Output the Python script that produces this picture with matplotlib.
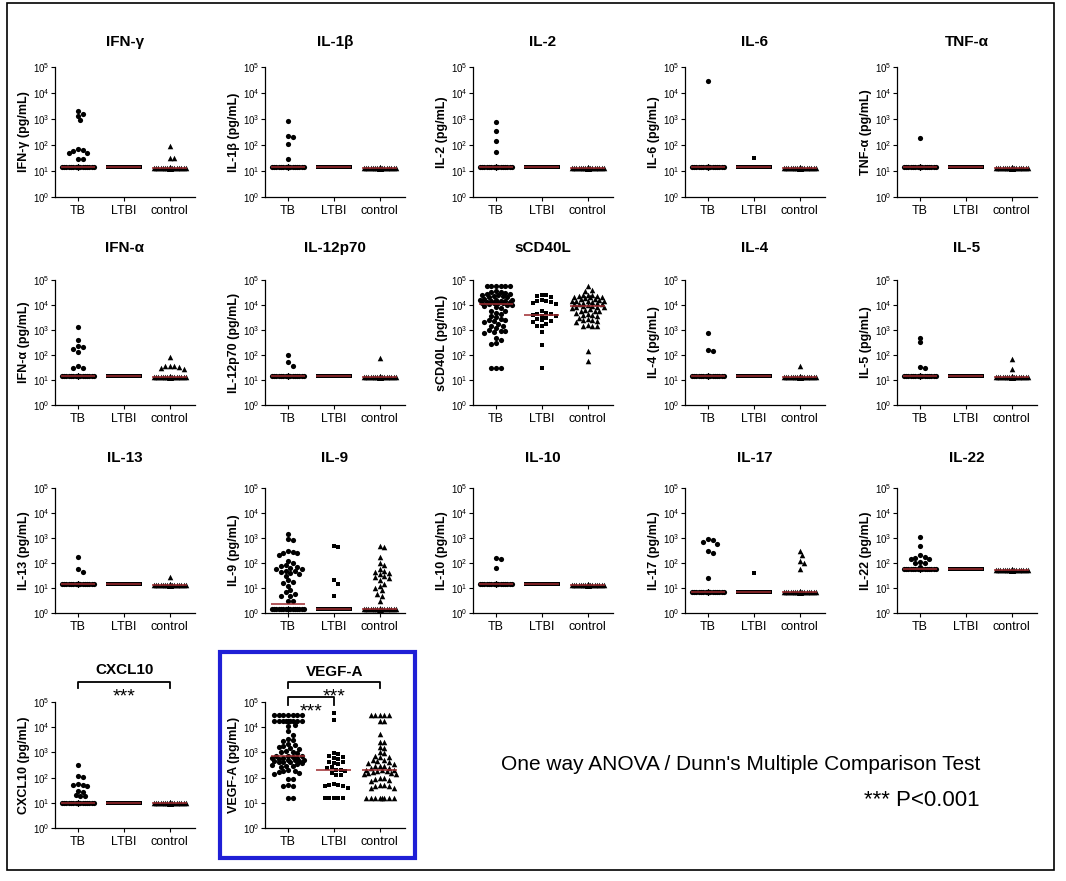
import numpy as np
import matplotlib
matplotlib.use('Agg')
import matplotlib.pyplot as plt
from matplotlib.patches import Rectangle

plt.rcParams['font.family'] = ['Liberation Sans', 'DejaVu Sans']

groups = ['TB', 'LTBI', 'control']

# pg/mL values; repeated values = points sitting on the detection limit
ifn_g = {'TB': [2000, 1600, 1300, 900, 70, 65, 60, 50, 50, 30, 30] + [14] * 55,
         'LTBI': [14] * 30,
         'control': [90, 32, 32] + [13] * 53}
il_1b = {'TB': [850, 230, 200, 110, 28] + [14] * 61,
         'LTBI': [14] * 30,
         'control': [13] * 56}
il_2 = {'TB': [800, 340, 140, 56] + [14] * 62,
        'LTBI': [14] * 30,
        'control': [13] * 56}
il_6 = {'TB': [28000] + [14] * 65,
        'LTBI': [31] + [14] * 29,
        'control': [13] * 56}
tnf_a = {'TB': [180] + [14] * 65,
         'LTBI': [14] * 30,
         'control': [13] * 56}
ifn_a = {'TB': [1300, 400, 230, 200, 180, 130, 38, 30, 30] + [14] * 57,
         'LTBI': [14] * 30,
         'control': [80, 38, 36, 34, 30, 28, 38] + [13] * 49}
il_12 = {'TB': [100, 52, 38] + [14] * 63,
         'LTBI': [14] * 30,
         'control': [76] + [13] * 55}
scd40l = {'TB': [60000] * 6
                + [35000, 33000, 30000, 32000, 28000, 27000, 25000, 24000, 22000, 21000, 20000, 23000]
                + [16000, 15000, 15500, 14000, 14500, 13500, 13000, 12500, 12000, 12000, 11500, 11000, 16500, 17000]
                + [10000, 10000, 9500, 8000, 7500, 6000, 5500, 5000, 4500]
                + [3500, 3200, 2800, 2500, 2400, 2200, 2000, 1800]
                + [1500, 1400, 1200, 1000, 950, 900, 800, 750, 500, 400, 300, 280, 30, 30, 30],
          'LTBI': [25000, 24000, 22000, 20000, 16000, 15000, 14000, 13000, 12000, 11000,
                   6000, 4800, 4500, 4300, 4000, 3800, 3500, 3000, 2800, 2500, 2200, 2000,
                   1800, 1500, 1500, 800, 250, 30],
          'control': [55000, 40000, 38000, 26000, 25000, 24000, 23000, 22000, 21000, 20000,
                      19000, 18000, 20000, 17000, 16000, 15000, 15000, 14000, 14000, 13000,
                      12500, 12000, 11000, 11000, 10500, 10000, 9500, 9000, 8500, 8000,
                      8000, 7500, 7000, 6500, 6000, 6000, 5500, 5000, 4500, 4000,
                      4000, 3500, 3000, 2800, 2600, 2500, 2200, 2000, 1600, 1500,
                      1400, 1500, 150, 55]}
il_4 = {'TB': [750, 160, 150] + [14] * 63,
        'LTBI': [14] * 30,
        'control': [38] + [13] * 55}
il_5 = {'TB': [500, 320, 34, 30] + [14] * 62,
        'LTBI': [14] * 30,
        'control': [72, 28] + [13] * 54}
il_13 = {'TB': [180, 60, 44] + [14] * 63,
         'LTBI': [14] * 30,
         'control': [28] + [13] * 55}
il_9 = {'TB': [1400, 900, 800, 300, 280, 250, 250, 200, 120, 100, 80, 75, 70, 65, 60, 55,
               50, 48, 45, 40, 35, 30, 20, 18, 16, 12, 8, 7, 6, 5, 5, 3, 3] + [1.4] * 33,
        'LTBI': [500, 450, 20, 15, 5] + [1.4] * 25,
        'control': [500, 450, 180, 100, 80, 60, 50, 45, 40, 35, 30, 28, 25, 20, 15, 12,
                    10, 8, 6, 5, 3] + [1.4] * 35}
il_10 = {'TB': [160, 140, 65] + [14] * 63,
         'LTBI': [14] * 30,
         'control': [13] * 56}
il_17 = {'TB': [900, 800, 700, 600, 300, 250, 25] + [7] * 59,
         'LTBI': [40] + [7] * 29,
         'control': [300, 200, 120, 100, 60] + [7] * 51}
il_22 = {'TB': [1100, 500, 200, 180, 160, 150, 140, 110, 100, 100, 70] + [55] * 55,
         'LTBI': [55] * 30,
         'control': [52] * 56}
cxcl10 = {'TB': [330, 120, 110, 55, 50, 50, 48, 30, 28, 20, 18, 18] + [9.5] * 54,
          'LTBI': [9.5] * 30,
          'control': [9.5] * 56}
vegf_a = {'TB': [30000] * 7 + [17000] * 9 + [12000, 11000, 7000, 5000, 3500, 3000, 2800,
                 2200, 2000, 1800, 1600, 1500, 1400, 1100, 1000, 1000, 950,
                 750, 700, 700, 650, 600, 600, 580, 550, 520, 500, 480, 470, 450, 420,
                 400, 400, 380, 350, 320, 300, 280, 260, 200, 190, 180, 170, 150, 140,
                 90, 85, 50, 48, 45, 15, 15],
          'LTBI': [35000, 19000, 950, 900, 700, 650, 600, 550, 420, 400, 380, 350, 260, 250,
                   200, 200, 180, 150, 130, 125, 55, 50, 50, 48, 45, 40, 15, 15, 15, 15, 15],
          'control': [30000] * 5 + [17000, 17000, 5600, 2600, 2500, 1600, 1500, 1000, 950,
                      700, 680, 650, 500, 480, 450, 400, 380, 350, 300, 290, 280, 250, 240,
                      200, 200, 200, 180, 175, 170, 150, 150, 140, 140, 100, 95, 90, 80, 75,
                      50, 50, 48, 45, 40, 38] + [15] * 8}

panels = [('IFN-γ', 'IFN-γ (pg/mL)', ifn_g), ('IL-1β', 'IL-1β (pg/mL)', il_1b),
          ('IL-2', 'IL-2 (pg/mL)', il_2), ('IL-6', 'IL-6 (pg/mL)', il_6),
          ('TNF-α', 'TNF-α (pg/mL)', tnf_a), ('IFN-α', 'IFN-α (pg/mL)', ifn_a),
          ('IL-12p70', 'IL-12p70 (pg/mL)', il_12), ('sCD40L', 'sCD40L (pg/mL)', scd40l),
          ('IL-4', 'IL-4 (pg/mL)', il_4), ('IL-5', 'IL-5 (pg/mL)', il_5),
          ('IL-13', 'IL-13 (pg/mL)', il_13), ('IL-9', 'IL-9 (pg/mL)', il_9),
          ('IL-10', 'IL-10 (pg/mL)', il_10), ('IL-17', 'IL-17 (pg/mL)', il_17),
          ('IL-22', 'IL-22 (pg/mL)', il_22), ('CXCL10', 'CXCL10 (pg/mL)', cxcl10),
          ('VEGF-A', 'VEGF-A (pg/mL)', vegf_a)]

markers = {'TB': ('o', 14), 'LTBI': ('s', 12), 'control': ('^', 16)}

W, H = 1066, 881
col_x = [55, 265, 473, 685, 897]
rows = [(67, 197, 42), (280, 405, 248), (488, 613, 458), (702, 828, 670)]
AX_W = 140


def swarm(vals, step=0.05, d=4.6, maxw=0.36, ux=46.0, uy=25.5):
    # simple beeswarm: offsets in category units so that markers do not overlap;
    # once a row is full the rest fill the gaps (gives the solid band at the detection limit)
    vals = np.asarray(vals, float)
    y = np.log10(vals) * uy
    xs = np.zeros(len(vals))
    cand = [0.0]
    k = 1
    while k * step <= maxw + 1e-9:
        cand += [k * step, -k * step]
        k += 1
    px, py = [], []
    for i in np.argsort(-vals):
        best, best_d = 0.0, -1
        for c in cand:
            if px:
                dist = np.min(np.hypot((np.array(px) - c) * ux, np.array(py) - y[i]))
            else:
                dist = 1e9
            if dist >= d:
                best = c
                break
            if dist > best_d:
                best, best_d = c, dist
        xs[i] = best
        px.append(best)
        py.append(y[i])
    return xs


fig = plt.figure(figsize=(W / 100, H / 100), dpi=100)

for n, (title, ylab, data) in enumerate(panels):
    if n < 15:
        r, c = divmod(n, 5)
    else:
        r, c = 3, n - 15
    top, bottom, ty = rows[r]
    x0 = col_x[c]
    ax = fig.add_axes([x0 / W, 1 - bottom / H, AX_W / W, (bottom - top) / H])
    for gi, g in enumerate(groups):
        vals = np.asarray(data[g], float)
        m, s = markers[g]
        ax.scatter(gi + swarm(vals), vals, marker=m, s=s, color='black', linewidths=0, zorder=2)
        ax.hlines(np.median(vals), gi - 0.38, gi + 0.38, color='#9e2a2e', lw=1.1, zorder=3)
    ax.set_yscale('log')
    ax.set_ylim(1, 1e5)
    ax.set_xlim(-0.5, 2.55)
    ax.set_yticks([1, 10, 100, 1e3, 1e4, 1e5])
    ax.minorticks_off()
    ax.set_xticks(range(3))
    ax.set_xticklabels(groups, fontsize=9)
    ax.tick_params(axis='y', labelsize=7, length=3, width=0.8, pad=1)
    ax.tick_params(axis='x', length=3, width=0.8, pad=3)
    for sp in ['top', 'right']:
        ax.spines[sp].set_visible(False)
    for sp in ['left', 'bottom']:
        ax.spines[sp].set_linewidth(0.9)
    ax.set_ylabel(ylab, fontweight='bold', fontsize=9, labelpad=2)
    if title == 'VEGF-A':
        ty = 672
    fig.text((x0 + AX_W / 2) / W, 1 - ty / H, title, ha='center', va='center',
             fontweight='bold', fontsize=11)

    hgt = bottom - top
    tr = ax.get_xaxis_transform()
    if title in ('CXCL10', 'VEGF-A'):
        yb, yt = 1 + 20 / hgt, 1 + 14 / hgt
        ax.plot([0, 0, 2, 2], [yt, yb, yb, yt], color='black', lw=1.3,
                transform=tr, clip_on=False)
        ax.text(1, 1 + 14 / hgt, '***', ha='center', va='top', fontsize=14, transform=tr)
    if title == 'VEGF-A':
        yb, yt = 1 + 5 / hgt, 1 - 3 / hgt
        ax.plot([0, 0, 1, 1], [yt, yb, yb, yt], color='black', lw=1.3,
                transform=tr, clip_on=False)
        ax.text(0.5, 1 - 1 / hgt, '***', ha='center', va='top', fontsize=14, transform=tr)

fig.text(980 / W, 1 - 764 / H, "One way ANOVA / Dunn's Multiple Comparison Test",
         ha='right', va='center', fontsize=15)
fig.text(980 / W, 1 - 801 / H, '*** P<0.001', ha='right', va='center', fontsize=16)

fig.add_artist(Rectangle((7 / W, 1 - 870 / H), 1047 / W, 867 / H, transform=fig.transFigure,
                         fill=False, lw=1.2, ec='black'))
fig.add_artist(Rectangle((220 / W, 1 - 858 / H), 195 / W, 206 / H, transform=fig.transFigure,
                         fill=False, lw=3, ec='#1f1fd6'))

fig.savefig('out.png', dpi=100)
